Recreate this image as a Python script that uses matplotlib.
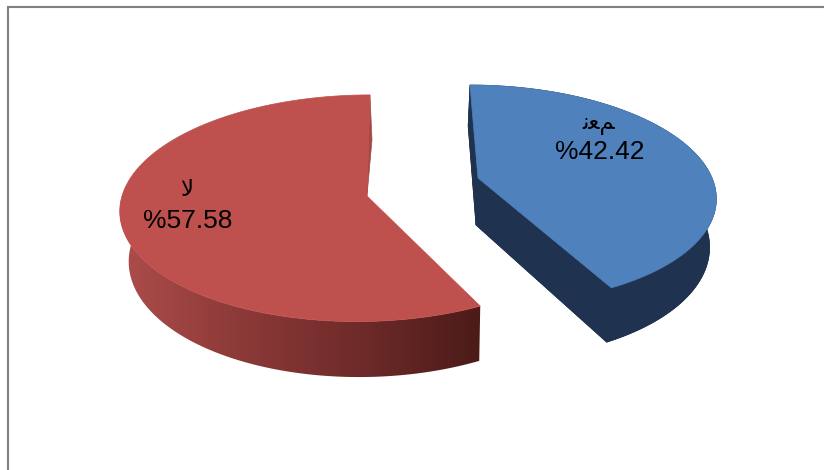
#!/usr/bin/env python3
import numpy as np
import matplotlib
matplotlib.use("Agg")
import matplotlib.pyplot as plt
from matplotlib.colors import LinearSegmentedColormap
from matplotlib.patches import Polygon

# presentation forms, matplotlib does not shape arabic by itself
labels = ["\ufefb", "\ufee7\ufecc\ufee2"]
values = [57.58, 42.42]
directions = [-1, 1]

top_colors = ["#BE504D", "#4F81BD"]
wall_dark = "#1F3350"
side_red = "#A24845"

# cx, cy, a, b, perspective, shear, depth, apex x, taper, bottom shift
geo_red = (364, 196, 242, 112, 0.108, 6.6, 49.5, 367, 0.0276, 2.2)
geo_blue = (478, 178, 234, 107, 0.151, -9.2, 47, 478, 0.02, -2)


def project(geo, t, z):
    cx, cy, a, b, p, s, d, _, taper, dx = geo
    u = np.sin(t)
    v = np.cos(t)
    w = 1 / (1 + p * v)
    x = cx + (a * u + s * v) * w * (1 - taper * z) + dx * z
    y = cy - b * v * w + d * z * w
    return np.column_stack([x, y])


def apex(geo, z):
    return np.array([[geo[7] + geo[9] * z, geo[1] + geo[6] * z]])


fig = plt.figure(figsize=(8.24, 4.7), dpi=100)
ax = fig.add_axes([0, 0, 1, 1])
ax.axis("off")

# chart border, only left and top are in the picture
ax.plot([8, 8, 824], [470, 7, 7], color="#808080", lw=1.5, solid_joinstyle="miter")

total = sum(values)
spans = [val / total * 2 * np.pi for val in values]

# red slice
t_red = np.linspace(0, directions[0] * spans[0], 200)
top_arc = project(geo_red, t_red, 0)
low_arc = project(geo_red, t_red, 1)
side = Polygon(np.vstack([top_arc[0], low_arc[0], apex(geo_red, 0)]), fc=side_red, ec=side_red, lw=0.5)
ax.add_patch(side)
wall = Polygon(np.vstack([top_arc, low_arc[::-1]]), fc="none", ec="none")
ax.add_patch(wall)
grad = LinearSegmentedColormap.from_list("wall", ["#AD4D4A", "#8C3A38", "#6E2B29", "#4B1B18"])
im = ax.imshow(np.linspace(0, 1, 256).reshape(1, -1), cmap=grad, aspect="auto",
               extent=[119, 481, 380, 200], zorder=1)
im.set_clip_path(wall)
ax.add_patch(Polygon(np.vstack([apex(geo_red, 0), top_arc]), fc=top_colors[0], ec=top_colors[0], lw=0.5, zorder=3))

# blue slice, back side first, then the dark walls, top face goes over them
t_blue = np.linspace(0, directions[1] * spans[1], 200)
top_arc = project(geo_blue, t_blue, 0)
low_arc = project(geo_blue, t_blue, 1)
ax.add_patch(Polygon(np.vstack([top_arc[0], low_arc[0], apex(geo_blue, 1), apex(geo_blue, 0)]),
                     fc=wall_dark, ec=wall_dark, lw=0.5, zorder=2))
ax.add_patch(Polygon(np.vstack([apex(geo_blue, 1), low_arc]), fc=wall_dark, ec=wall_dark, lw=0.5, zorder=2))
ax.add_patch(Polygon(np.vstack([apex(geo_blue, 0), top_arc[-1], low_arc[-1], apex(geo_blue, 1)]),
                     fc=wall_dark, ec=wall_dark, lw=0.5, zorder=2))
ax.add_patch(Polygon(np.vstack([top_arc, low_arc[::-1]]), fc=wall_dark, ec=wall_dark, lw=0.5, zorder=2))
ax.add_patch(Polygon(np.vstack([apex(geo_blue, 0), top_arc]), fc=top_colors[1], ec=top_colors[1], lw=0.5, zorder=3))

# data labels
fonts = ["Liberation Sans", "DejaVu Sans"]
ax.text(187, 190, labels[0], family=fonts, fontsize=16.5, ha="center", va="center", zorder=4)
ax.text(187.5, 221.5, "%" + str(values[0]), family=fonts, fontsize=19, ha="center", va="center", zorder=4)
ax.text(599, 122, labels[1], family=fonts, fontsize=16.5, ha="center", va="center", zorder=4)
ax.text(599.5, 152, "%" + str(values[1]), family=fonts, fontsize=19, ha="center", va="center", zorder=4)

ax.set_xlim(0, 824)
ax.set_ylim(470, 0)
fig.savefig("out.png", dpi=100)
